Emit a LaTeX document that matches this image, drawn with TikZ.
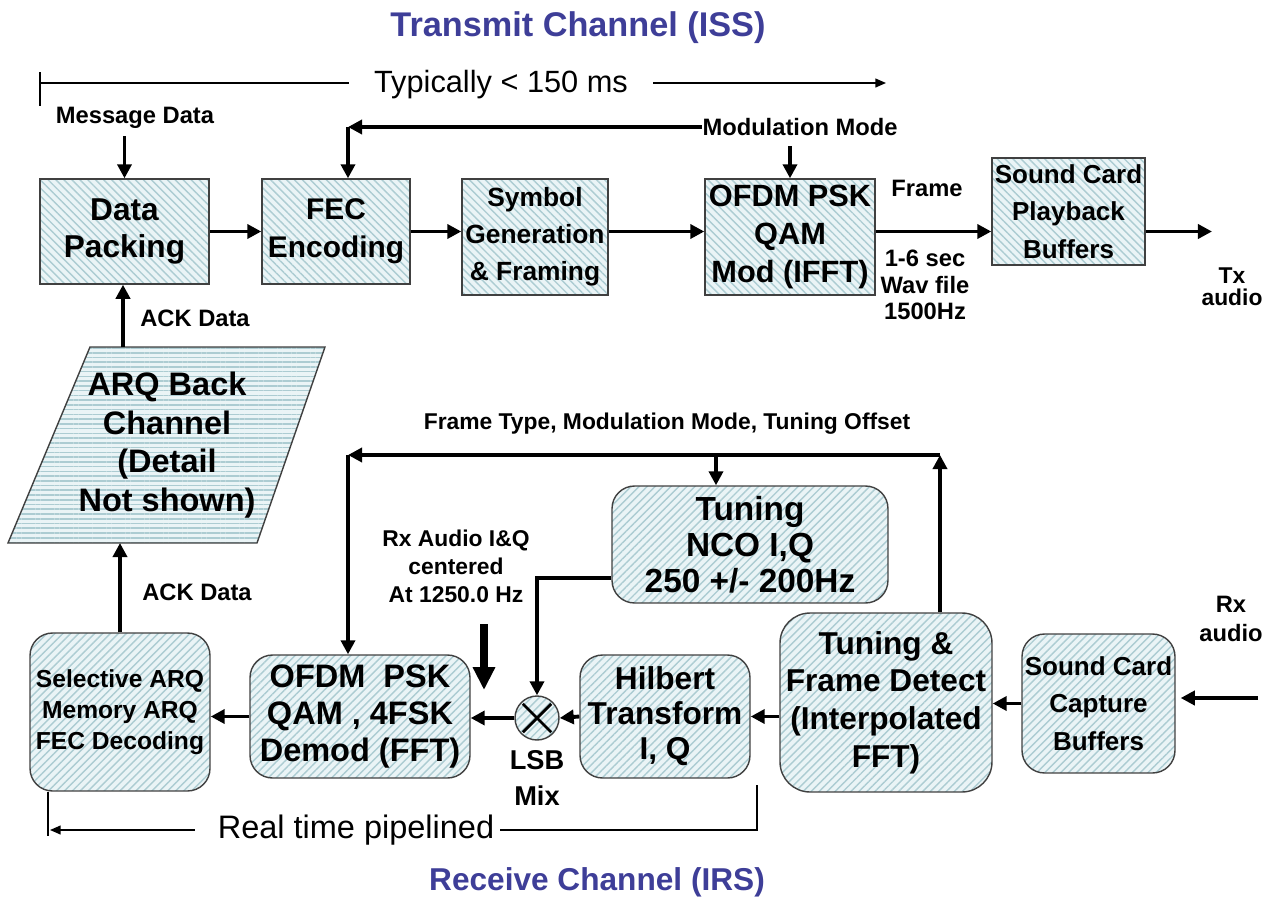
\documentclass[tikz,border=0pt]{standalone}
\usepackage{fontspec}
\setmainfont{Liberation Sans}
\usetikzlibrary{arrows.meta,patterns.meta}
\definecolor{titleblue}{RGB}{62,62,152}
\definecolor{hatchbg}{RGB}{234,244,246}
\definecolor{hatchln}{RGB}{172,204,210}

\begin{document}
\begin{tikzpicture}
      [   x=0.02cm, y=-0.02cm,
          box/.style={draw=black!75,line width=0.8pt,preaction={fill=hatchbg},
            pattern={Lines[angle=-45,distance=3.2pt,line width=0.8pt]},pattern color=hatchln,
            align=center,inner sep=0pt,font=\bfseries\fontsize{18}{21.5}\selectfont},
          rbox/.style={box,rounded corners=0.45cm,
            pattern={Lines[angle=45,distance=3.2pt,line width=0.8pt]}},
          arr/.style={line width=2.2pt,-{Triangle[length=8pt,width=8pt]}},
          fatarr/.style={line width=4pt,-{Triangle[length=13pt,width=12pt]}},
          tline/.style={line width=0.8pt},
          thinarr/.style={tline,-{Triangle[length=6pt,width=5pt]}},
          lbl/.style={align=center,inner sep=0pt,font=\bfseries\fontsize{13.5}{15.5}\selectfont},
          ttl/.style={text=titleblue,font=\bfseries\fontsize{19.5}{23}\selectfont},
      ]
          \useasboundingbox (0,0) rectangle (1268,903);

          % transmit channel
          \node[ttl] (txtitle) at (578,28) {Transmit Channel (ISS)};
          \coordinate (tltop) at (40,72);
          \coordinate (tlbot) at (40,106);
          \coordinate (tl0) at (40,83);
          \coordinate (tl1) at (886,83);
          \draw[tline] (tltop) -- (tlbot);
          \node[font=\fontsize{17.5}{20}\selectfont,inner xsep=0.5cm] (typ) at (501,85) {Typically < 150 ms};
          \draw[tline] (tl0) -- (typ.west |- tl0);
          \draw[thinarr] (typ.east |- tl1) -- (tl1);

          \node[lbl] (msg) at (135,118) {Message Data};
          \node[box,minimum width=3.38cm,minimum height=2.1cm] (pack) at (124.5,231.5) {Data\\Packing};
          \node[box,minimum width=2.96cm,minimum height=2.1cm,font=\bfseries\fontsize{17}{21.5}\selectfont] (fec) at (336,231.5) {FEC\\Encoding};
          \node[box,minimum width=2.92cm,minimum height=2.32cm,font=\bfseries\fontsize{15}{21}\selectfont] (sym) at (535,237) {Symbol\\Generation\\\& Framing};
          \node[box,minimum width=3.4cm,minimum height=2.32cm,font=\bfseries\fontsize{17.5}{21.5}\selectfont] (mod) at (790,237) {OFDM PSK\\QAM\\Mod (IFFT)};
          \node[box,minimum width=3.06cm,minimum height=2.14cm,font=\bfseries\fontsize{14.8}{21.5}\selectfont] (play) at (1068.5,211.5) {Sound Card\\Playback\\Buffers};

          \node[lbl] (mm) at (800,127) {Modulation Mode};
          \coordinate (mmc) at (348,127);
          \draw[arr] (mm.west) -- (mmc);
          \draw[arr] (mmc) -- (mmc |- fec.north);
          \draw[arr,shorten <=0.2cm] (mod.north |- mm.south) -- (mod.north);

          \draw[arr,shorten <=0.14cm] (msg.south -| pack.north) -- (pack.north);
          \draw[arr] (pack.east) -- (fec.west);
          \draw[arr] (fec.east) -- (fec.east -| sym.west);
          \draw[arr] (sym.east |- pack.east) -- (mod.west |- pack.east);
          \draw[arr] (mod.east |- pack.east) -- (play.west |- pack.east);
          \coordinate (txout) at (1212,231.5);
          \draw[arr] (play.east |- txout) -- (txout);
          \node[lbl] (frm) at (927,188) {Frame};
          \node[lbl,font=\bfseries\fontsize{13.5}{15}\selectfont] (wav) at (925,285) {1-6 sec\\Wav file\\1500Hz};
          \node[lbl,font=\bfseries\fontsize{13}{12.5}\selectfont] (tx) at (1232,287) {Tx\\audio};

          % back channel
          \coordinate (arqtop) at (123,347);
          \coordinate (arqbot) at (120,543);
          \draw[draw=black!75,line width=0.8pt,preaction={fill=hatchbg},
            pattern={Lines[angle=0,distance=2.7pt,line width=0.9pt]},pattern color=hatchln]
            (90,347) -- (325,347) -- (257,543) -- (8,543) -- cycle;
          \node[align=center,font=\bfseries\fontsize{18.5}{22}\selectfont] (arq) at (167,445) {ARQ Back\\Channel\\(Detail\\Not shown)};
          \draw[arr] (arqtop) -- (arqtop |- pack.south);
          \node[lbl] (ack1) at (195,318) {ACK Data};

          % receive channel
          \node[rbox,minimum width=3.6cm,minimum height=3.16cm,font=\bfseries\fontsize{14}{17.5}\selectfont] (sel) at (120,712) {Selective ARQ\\Memory ARQ\\FEC Decoding};
          \draw[arr] (sel.north) -- (arqbot);
          \node[lbl] (ack2) at (197,592) {ACK Data};
          \node[rbox,minimum width=4.4cm,minimum height=2.46cm,font=\bfseries\fontsize{18.5}{21}\selectfont] (demod) at (360,716.5) {OFDM\ \ PSK\\QAM , 4FSK\\Demod (FFT)};
          \node[circle,draw=black!75,line width=0.8pt,preaction={fill=hatchbg},
            pattern={Lines[angle=45,distance=3.2pt,line width=0.8pt]},pattern color=hatchln,
            minimum size=0.88cm,inner sep=0pt] (mix) at (537,718) {};
          \draw[line width=1.6pt,shorten <=1.5pt,shorten >=1.5pt] (mix.45) -- (mix.225);
          \draw[line width=1.6pt,shorten <=1.5pt,shorten >=1.5pt] (mix.135) -- (mix.315);
          \node[lbl,font=\bfseries\fontsize{15.5}{21}\selectfont] (lsb) at (537,778) {LSB\\Mix};
          \node[rbox,minimum width=3.4cm,minimum height=2.46cm,font=\bfseries\fontsize{18}{20}\selectfont] (hil) at (665,716.5) {Hilbert\\Transform\\I, Q};
          \node[rbox,minimum width=4.24cm,minimum height=3.58cm,rounded corners=0.6cm,font=\bfseries\fontsize{18}{21.4}\selectfont] (tfd) at (886,702.5) {Tuning \&\\Frame Detect\\(Interpolated\\FFT)};
          \node[rbox,minimum width=3.06cm,minimum height=2.78cm,font=\bfseries\fontsize{14.8}{21.5}\selectfont] (cap) at (1098.5,703.5) {Sound Card\\Capture\\Buffers};
          \node[rbox,minimum width=5.52cm,minimum height=2.34cm,font=\bfseries\fontsize{19}{20.5}\selectfont] (nco) at (750,544.5) {Tuning\\NCO I,Q\\250 +/- 200Hz};

          \draw[arr] (cap.west) -- (cap.west -| tfd.east);
          \draw[arr] (tfd.west |- hil.east) -- (hil.east);
          \draw[arr] (hil.west) -- (mix.east);
          \draw[arr] (mix.west) -- (mix.west -| demod.east);
          \draw[arr] (demod.west) -- (demod.west -| sel.east);
          \coordinate (rxin) at (1258,698);
          \draw[arr,shorten >=0.1cm] (rxin) -- (rxin -| cap.east);
          \node[lbl,font=\bfseries\fontsize{13.5}{16}\selectfont] (rxa) at (1231,619) {Rx\\audio};
          \draw[arr] ([yshift=-0.67cm]nco.west) -| (mix.north);

          \coordinate (fbr) at (940,455);
          \coordinate (fbl) at (348,455);
          \coordinate (fbn) at (716,455);
          \draw[arr] (fbr |- tfd.north) -- (fbr);
          \draw[arr] (fbr) -- (fbl);
          \draw[arr] (fbl) -- (fbl |- demod.north);
          \draw[arr] (fbn) -- (fbn |- nco.north);
          \node[lbl,font=\bfseries\fontsize{13}{15}\selectfont] (fbtxt) at (667,424) {Frame Type, Modulation Mode, Tuning Offset};

          \node[lbl,font=\bfseries\fontsize{13}{16}\selectfont] (rxiq) at (456,566) {Rx Audio I\&Q\\centered\\At 1250.0 Hz};
          \coordinate (iqtop) at (484,624);
          \coordinate (iqbot) at (484,690);
          \draw[fatarr] (iqtop) -- (iqbot);

          % pipeline span
          \coordinate (rtr) at (757,785);
          \coordinate (rtl) at (50,832);
          \coordinate (rtt) at (48,792);
          \coordinate (rtb) at (48,836);
          \node[font=\fontsize{18.5}{22}\selectfont,inner xsep=3pt] (rt) at (356,830) {Real time pipelined};
          \draw[tline] (rtr) |- (rt.east);
          \draw[thinarr,shorten <=0.35cm] (rt.west) -- (rtl |- rt.west);
          \draw[tline] (rtt) -- (rtb);

          \node[ttl,font=\bfseries\fontsize{18}{22}\selectfont] (rxtitle) at (597,882) {Receive Channel (IRS)};
    \end{tikzpicture}
\end{document}
